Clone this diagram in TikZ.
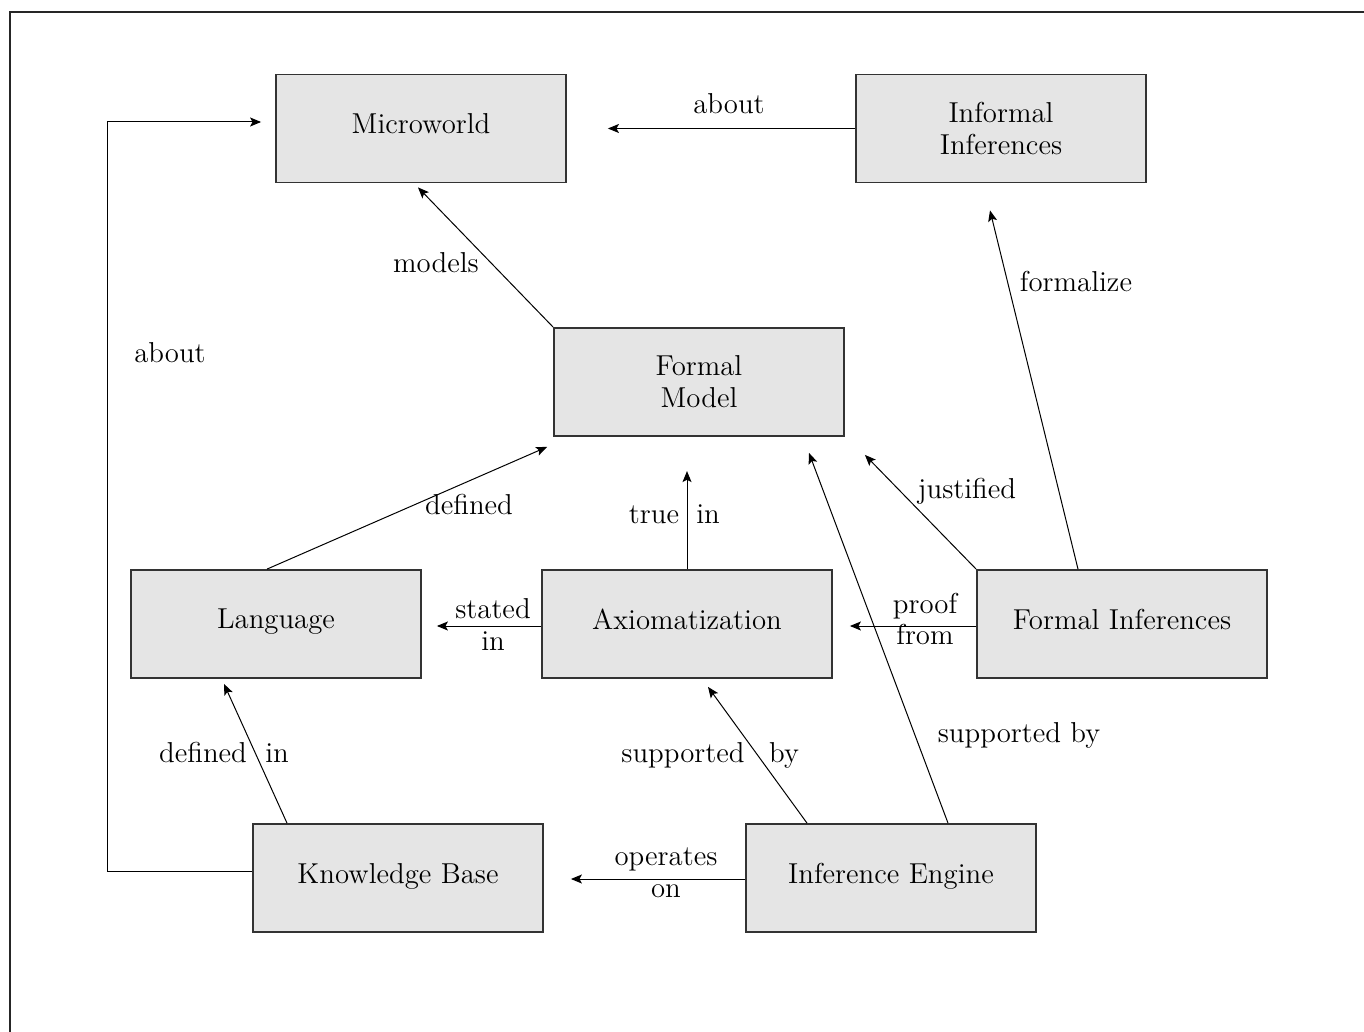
\documentclass[tikz,border=0pt]{standalone}
\usetikzlibrary{arrows.meta,calc}
\begin{document}
\begin{tikzpicture}[x=0.5pt,y=-0.5pt,
  font=\fontsize{14.4}{16}\selectfont,
  box/.style={draw=black!80,line width=0.9pt,fill=gray!20,minimum width=145pt,minimum height=54pt,inner sep=0pt,align=center},
  one/.style={text depth=5pt},
  arr/.style={line width=0.5pt,-{Stealth[length=5.5pt,width=4.5pt,inset=1.2pt]}},
  lbl/.style={inner sep=0pt,text height=10pt,text depth=3pt}]
\useasboundingbox (0,0) rectangle (1364,1032);
\draw[line width=1pt,black!85] (10,1032) -- (10,12) -- (1364,12);
% boxes
\node[box,one] (mw) at (421,128.5) {Microworld};
\node[box] (inf) at (1001,128.5) {Informal\\Inferences};
\node[box] (fm) at (699,382) {Formal\\Model};
\node[box,one] (lang) at (276,624) {Language};
\node[box,one] (ax) at (687,624) {Axiomatization};
\node[box,one] (fi) at (1122,624) {Formal Inferences};
\node[box,one] (kb) at (398,878) {Knowledge Base};
\node[box,one] (ie) at (891,878) {Inference Engine};
% connectors
\draw[arr] (inf.west) -- ($(mw.east)+(41,0)$);
\draw[arr] (fm.north west) -- ($(mw.south)+(-3,4)$);
\coordinate (kbl) at (107,871);
\coordinate (kbt) at (107,122);
\draw[arr] ($(kb.west)+(0,-7)$) -- (kbl) -- (kbt) -- ($(mw.west)+(-14,-6.5)$);
\draw[arr] ($(lang.north)+(-9,0)$) -- ($(fm.south west)+(-6,10)$);
\draw[arr] (ax.north) -- ++(0,-98);
\draw[arr] ($(ax.west)+(0,2)$) -- ($(lang.east)+(15,2)$);
\draw[arr] ($(fi.west)+(0,2)$) -- ($(ax.east)+(17,2)$);
\draw[arr] (fi.north west) -- ($(fm.south east)+(20,18)$);
\draw[arr] ($(fi.north)+(-44,0)$) -- ($(inf.south)+(-11,27)$);
\draw[arr] ($(kb.north)+(-111,0)$) -- ($(lang.south)+(-52,5)$);
\draw[arr] ($(ie.north)+(-84,0)$) -- ($(ax.south)+(21,8)$);
\draw[arr] ($(ie.north)+(57,0)$) -- ($(fm.south)+(110,16)$);
\draw[arr] ($(ie.west)+(0,1)$) -- ($(kb.east)+(27,1)$);
% labels
\node[lbl] (l1) at (729,107) {about};
\node[lbl] (l2) at (436,265) {models};
\node[lbl] (l3) at (170,355) {about};
\node[lbl] (l4) at (469,507) {defined};
\node[lbl] (l5) at (654,516) {true};
\node[lbl] (l6) at (708,516) {in};
\node[lbl] (l7) at (493,611) {stated};
\node[lbl] (l8) at (493,643) {in};
\node[lbl] (l9) at (925,606) {proof};
\node[lbl] (l10) at (925,637) {from};
\node[lbl] (l11) at (967,491) {justified};
\node[lbl] (l12) at (1076,285) {formalize};
\node[lbl] (l13) at (203,755) {defined};
\node[lbl] (l14) at (277,755) {in};
\node[lbl] (l15) at (683,755) {supported};
\node[lbl] (l16) at (784,755) {by};
\node[lbl] (l17) at (1019,735) {supported by};
\node[lbl] (l18) at (666,858) {operates};
\node[lbl] (l19) at (666,890) {on};
\end{tikzpicture}
\end{document}
